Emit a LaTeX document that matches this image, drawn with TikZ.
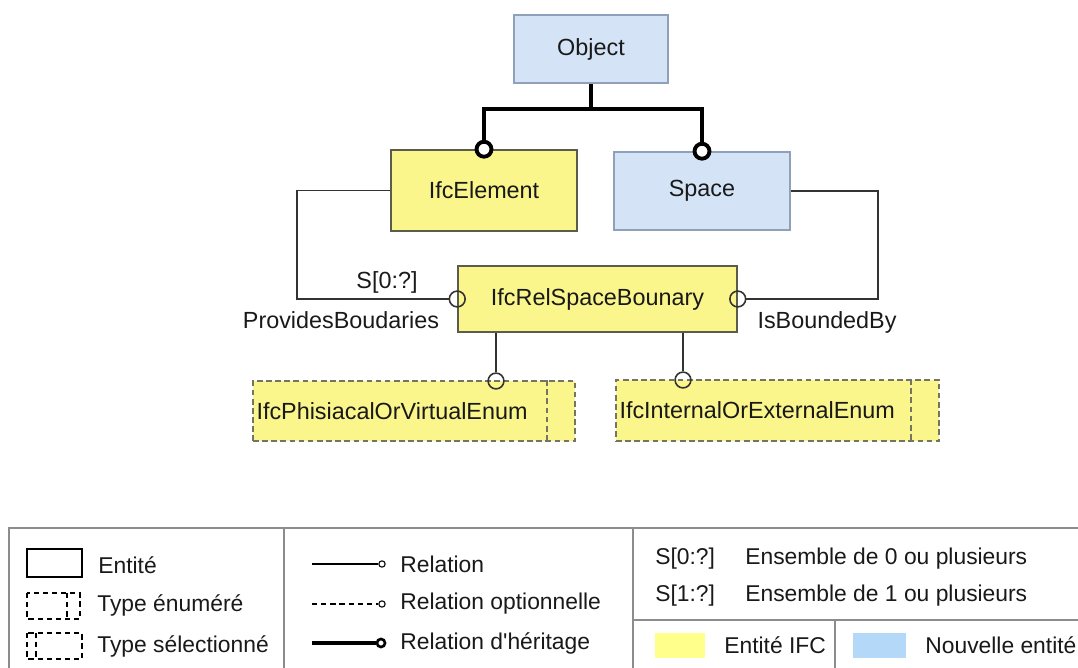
\documentclass[tikz,border=0pt]{standalone}
\usepackage{xcolor}
\usepackage{fontspec}
\setmainfont{Liberation Sans}
\usepackage{tikz}
\usetikzlibrary{calc}
\definecolor{ifcyellow}{HTML}{FAF68C}
\definecolor{newblue}{HTML}{D5E3F6}
\definecolor{legyellow}{HTML}{FFFF8C}
\definecolor{legblue}{HTML}{B3D8F8}
\definecolor{ifcborder}{HTML}{5C5C4A}
\definecolor{blueborder}{HTML}{8FA1BA}
\definecolor{linkgray}{HTML}{333333}
\definecolor{framegray}{HTML}{8C8C8C}

\begin{document}
\begin{tikzpicture}[x=0.02cm,y=-0.02cm,font=\fontsize{13.3}{16}\selectfont,text=black!90,
  ifcbox/.style={draw=ifcborder,fill=ifcyellow,line width=0.9pt},
  newbox/.style={draw=blueborder,fill=newblue,line width=0.9pt},
  enumbox/.style={draw=ifcborder!85,fill=ifcyellow,line width=0.9pt,dash pattern=on 3.2pt off 2pt,align=left,inner xsep=0.07cm},
  enumline/.style={draw=ifcborder!85,line width=0.9pt,dash pattern=on 3.2pt off 2pt},
  ring/.style={circle,draw=linkgray,line width=0.9pt,minimum size=9pt,inner sep=0pt},
  hring/.style={circle,draw=black,fill=white,line width=2.2pt,minimum size=8.5pt,inner sep=0pt},
  relline/.style={draw=linkgray,line width=0.9pt},
  inh/.style={draw=black,line width=2.3pt},
  legtext/.style={anchor=west,inner sep=0pt,font=\fontsize{13}{15}\selectfont},
  legframe/.style={draw=framegray,line width=0.8pt},
  smalldash/.style={draw=black,line width=0.6pt,dash pattern=on 3pt off 2.2pt}]
\useasboundingbox (0,0) rectangle (1078,668);
\node[newbox,minimum width=3.08cm,minimum height=1.36cm] (obj) at (591,49) {Object};
\node[ifcbox,minimum width=3.72cm,minimum height=1.62cm] (el) at (484,190.5) {IfcElement};
\node[newbox,minimum width=3.52cm,minimum height=1.56cm] (sp) at (702,191) {Space};
\node[ifcbox,minimum width=5.58cm,minimum height=1.32cm] (rel) at (597.5,299) {IfcRelSpaceBounary};
\node[enumbox,text width=6.3cm,minimum height=1.2cm] (phys) at (414,411) {IfcPhisiacalOrVirtualEnum};
\node[enumbox,text width=6.32cm,minimum height=1.22cm] (intext) at (777.5,410.5) {IfcInternalOrExternalEnum};
\draw[enumline] ($(phys.north east)+(-29,0)$) -- ($(phys.south east)+(-29,0)$);
\draw[enumline] ($(intext.north east)+(-29,0)$) -- ($(intext.south east)+(-29,0)$);
\node[hring] (h1) at (el.north) {};
\node[hring] (h2) at (sp.north) {};
\node[ring] (r0) at (rel.west) {};
\node[ring] (r1) at (rel.east) {};
\node[ring] (r2) at (496,381) {};
\node[ring] (r3) at (683,380) {};
\draw[inh] (obj.south) -- ++(0,25) coordinate (bus);
\draw[inh] (h1.north) |- (bus) -| (h2.north);
\draw[relline] (el.west) -- ++(-93,0) |- (r0.west);
\draw[relline] (sp.east) -- ++(87,0) |- (r1.east);
\draw[relline] (r2.north) -- (r2.north |- rel.south);
\draw[relline] (r3.north) -- (r3.north |- rel.south);
\node (card) at (387,282) {S[0:?]};
\node (provides) at (341,320) {ProvidesBoudaries};
\node (bounded) at (827,322) {IsBoundedBy};
\draw[legframe] (9,528) rectangle (1100,700);
\draw[legframe] (284,528) -- (284,700);
\draw[legframe] (633,528) -- (633,700);
\draw[legframe] (633,620) -- (1100,620);
\draw[legframe] (835,620) -- (835,700);
\draw[black,line width=0.8pt] (27,549) rectangle (82,577);
\draw[smalldash] (27,593) rectangle (80,619);
\draw[smalldash] (67,593) -- (67,619);
\draw[smalldash] (27,633) rectangle (82,659);
\draw[smalldash] (36,633) -- (36,659);
\node[legtext] (lent) at (98,565) {Entité};
\node[legtext] (lenum) at (97,605) {Type énuméré};
\node[legtext] (lsel) at (97,646) {Type sélectionné};
\draw[black,line width=0.6pt] (312,564) -- (378,564);
\draw[black,line width=0.6pt] (382,564) circle[radius=1.8pt];
\draw[smalldash] (312,604) -- (378,604);
\draw[black,line width=0.6pt] (382,604) circle[radius=1.8pt];
\draw[black,line width=1.8pt] (312,643) -- (376,643);
\draw[black,line width=1.5pt] (381,643) circle[radius=2.3pt];
\node[legtext] (lrel) at (400,564) {Relation};
\node[legtext] (lopt) at (400,604) {Relation optionnelle};
\node[legtext] (lher) at (400,643) {Relation d\textquotesingle héritage};
\node[legtext] (ls0) at (655,559) {S[0:?]};
\node[legtext] (le0) at (745,559) {Ensemble de 0 ou plusieurs};
\node[legtext] (ls1) at (655,596) {S[1:?]};
\node[legtext] (le1) at (745,596) {Ensemble de 1 ou plusieurs};
\fill[legyellow] (655,633) rectangle (705,658);
\fill[legblue] (853,633) rectangle (906,658);
\node[legtext] (lifc) at (724,645) {Entité IFC};
\node[legtext] (lnew) at (925,645) {Nouvelle entité};
\end{tikzpicture}
\end{document}
